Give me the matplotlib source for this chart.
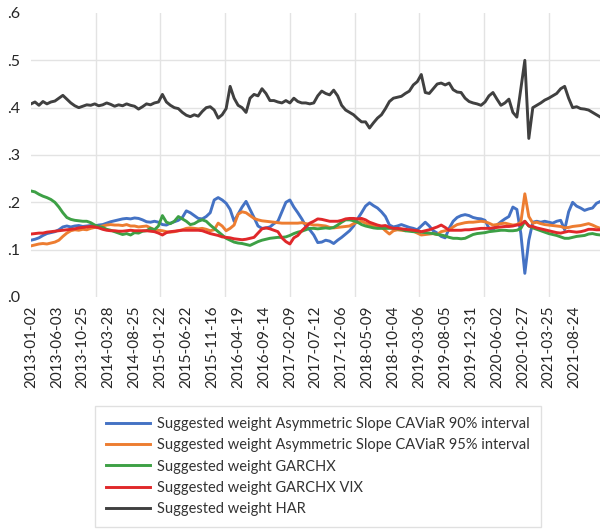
import matplotlib
matplotlib.use("Agg")
import matplotlib.pyplot as plt
from matplotlib.ticker import FuncFormatter
import numpy as np

# Trading-day rows between stored samples, between date labels and between vertical gridlines
rows_per_sample = 16
rows_per_label = 104
rows_per_grid = 260
n_rows = 2286

date_labels = [
    "2013-01-02", "2013-06-03", "2013-10-25", "2014-03-28", "2014-08-25",
    "2015-01-22", "2015-06-22", "2015-11-16", "2016-04-19", "2016-09-14",
    "2017-02-09", "2017-07-12", "2017-12-06", "2018-05-09", "2018-10-04",
    "2019-03-06", "2019-08-05", "2019-12-31", "2020-06-02", "2020-10-27",
    "2021-03-25", "2021-08-24",
]

series_names = [
    "Suggested weight Asymmetric Slope CAViaR 90% interval",
    "Suggested weight Asymmetric Slope CAViaR 95% interval",
    "Suggested weight GARCHX",
    "Suggested weight GARCHX VIX",
    "Suggested weight HAR",
]

caviar_90 = [
    0.120, 0.122, 0.125, 0.130, 0.134, 0.136, 0.138, 0.142, 0.148, 0.150, 0.148, 0.150,
    0.151, 0.149, 0.150, 0.151, 0.150, 0.152, 0.153, 0.156, 0.159, 0.161, 0.163, 0.165,
    0.166, 0.165, 0.167, 0.166, 0.163, 0.159, 0.158, 0.160, 0.158, 0.153, 0.152, 0.156,
    0.159, 0.162, 0.168, 0.182, 0.178, 0.172, 0.166, 0.165, 0.170, 0.178, 0.205, 0.210,
    0.205, 0.198, 0.185, 0.160, 0.175, 0.190, 0.202, 0.185, 0.168, 0.150, 0.145, 0.146,
    0.148, 0.155, 0.160, 0.180, 0.200, 0.205, 0.190, 0.178, 0.165, 0.150, 0.142, 0.131,
    0.115, 0.116, 0.120, 0.118, 0.113, 0.120, 0.126, 0.133, 0.140, 0.150, 0.165, 0.178,
    0.192, 0.199, 0.193, 0.188, 0.180, 0.170, 0.152, 0.148, 0.150, 0.153, 0.150, 0.147,
    0.145, 0.142, 0.150, 0.158, 0.150, 0.140, 0.135, 0.128, 0.125, 0.145, 0.160, 0.168,
    0.172, 0.174, 0.172, 0.168, 0.166, 0.165, 0.162, 0.145, 0.142, 0.152, 0.159, 0.165,
    0.170, 0.190, 0.185, 0.134, 0.050, 0.120, 0.158, 0.160, 0.158, 0.160, 0.158, 0.156,
    0.160, 0.162, 0.142, 0.180, 0.200, 0.192, 0.188, 0.183, 0.186, 0.188, 0.198, 0.202,
]

caviar_95 = [
    0.108, 0.110, 0.112, 0.113, 0.112, 0.114, 0.116, 0.120, 0.128, 0.135, 0.140, 0.142,
    0.141, 0.143, 0.142, 0.145, 0.147, 0.148, 0.150, 0.152, 0.153, 0.152, 0.152, 0.151,
    0.153, 0.150, 0.150, 0.148, 0.149, 0.150, 0.146, 0.142, 0.141, 0.140, 0.138, 0.137,
    0.138, 0.140, 0.142, 0.145, 0.146, 0.145, 0.144, 0.145, 0.143, 0.140, 0.142, 0.156,
    0.150, 0.140, 0.145, 0.152, 0.175, 0.180, 0.178, 0.172, 0.166, 0.163, 0.161, 0.160,
    0.159, 0.158, 0.157, 0.156, 0.156, 0.156, 0.156, 0.156, 0.157, 0.155, 0.154, 0.152,
    0.152, 0.151, 0.150, 0.147, 0.146, 0.147, 0.148, 0.149, 0.150, 0.155, 0.158, 0.160,
    0.156, 0.153, 0.150, 0.149, 0.148, 0.140, 0.133, 0.140, 0.142, 0.141, 0.140, 0.141,
    0.139, 0.135, 0.131, 0.132, 0.133, 0.134, 0.132, 0.138, 0.140, 0.142, 0.148, 0.153,
    0.155, 0.157, 0.158, 0.158, 0.159, 0.160, 0.159, 0.156, 0.152, 0.153, 0.155, 0.156,
    0.154, 0.152, 0.153, 0.158, 0.218, 0.170, 0.156, 0.158, 0.155, 0.153, 0.152, 0.151,
    0.150, 0.149, 0.146, 0.147, 0.149, 0.150, 0.151, 0.153, 0.155, 0.152, 0.148, 0.145,
]

garchx = [
    0.224, 0.222, 0.217, 0.213, 0.210, 0.206, 0.200, 0.190, 0.178, 0.168, 0.164, 0.162,
    0.161, 0.160, 0.160, 0.157, 0.152, 0.149, 0.147, 0.143, 0.141, 0.138, 0.135, 0.132,
    0.134, 0.131, 0.136, 0.135, 0.139, 0.140, 0.145, 0.142, 0.150, 0.172, 0.158, 0.155,
    0.160, 0.170, 0.165, 0.160, 0.153, 0.155, 0.160, 0.163, 0.160, 0.152, 0.145, 0.138,
    0.131, 0.124, 0.120, 0.116, 0.114, 0.113, 0.111, 0.109, 0.113, 0.117, 0.120, 0.122,
    0.124, 0.125, 0.126, 0.126, 0.127, 0.130, 0.134, 0.137, 0.139, 0.142, 0.145, 0.145,
    0.144, 0.145, 0.146, 0.145, 0.147, 0.152, 0.158, 0.163, 0.163, 0.161, 0.158, 0.153,
    0.150, 0.148, 0.146, 0.145, 0.145, 0.145, 0.145, 0.145, 0.144, 0.143, 0.140, 0.139,
    0.138, 0.138, 0.137, 0.136, 0.135, 0.134, 0.132, 0.131, 0.129, 0.126, 0.124, 0.124,
    0.123, 0.124, 0.128, 0.132, 0.134, 0.135, 0.136, 0.138, 0.139, 0.140, 0.141, 0.141,
    0.140, 0.140, 0.141, 0.145, 0.160, 0.150, 0.146, 0.143, 0.140, 0.137, 0.134, 0.132,
    0.130, 0.127, 0.124, 0.124, 0.126, 0.128, 0.129, 0.130, 0.133, 0.134, 0.132, 0.131,
]

garchx_vix = [
    0.133, 0.134, 0.135, 0.135, 0.137, 0.138, 0.139, 0.140, 0.141, 0.142, 0.143, 0.144,
    0.146, 0.147, 0.148, 0.149, 0.148, 0.146, 0.143, 0.141, 0.140, 0.140, 0.139, 0.139,
    0.140, 0.141, 0.140, 0.140, 0.140, 0.140, 0.139, 0.138, 0.135, 0.131, 0.136, 0.138,
    0.139, 0.140, 0.141, 0.141, 0.141, 0.141, 0.141, 0.140, 0.137, 0.134, 0.132, 0.130,
    0.127, 0.126, 0.125, 0.123, 0.122, 0.121, 0.122, 0.124, 0.126, 0.135, 0.144, 0.146,
    0.144, 0.141, 0.138, 0.125, 0.117, 0.112, 0.125, 0.130, 0.140, 0.148, 0.156, 0.160,
    0.165, 0.164, 0.162, 0.160, 0.160, 0.160, 0.162, 0.165, 0.166, 0.166, 0.165, 0.166,
    0.163, 0.158, 0.155, 0.152, 0.150, 0.151, 0.147, 0.145, 0.145, 0.144, 0.143, 0.142,
    0.141, 0.140, 0.138, 0.140, 0.142, 0.145, 0.148, 0.152, 0.147, 0.141, 0.141, 0.141,
    0.141, 0.142, 0.142, 0.143, 0.144, 0.145, 0.145, 0.145, 0.146, 0.147, 0.148, 0.149,
    0.149, 0.150, 0.152, 0.153, 0.160, 0.150, 0.149, 0.146, 0.144, 0.142, 0.140, 0.138,
    0.136, 0.135, 0.137, 0.139, 0.138, 0.137, 0.138, 0.140, 0.143, 0.143, 0.142, 0.142,
]

har = [
    0.408, 0.412, 0.405, 0.413, 0.408, 0.412, 0.414, 0.420, 0.426, 0.418, 0.410, 0.404,
    0.400, 0.403, 0.406, 0.405, 0.408, 0.404, 0.406, 0.410, 0.407, 0.403, 0.406, 0.404,
    0.408, 0.405, 0.403, 0.397, 0.402, 0.408, 0.406, 0.410, 0.412, 0.428, 0.412, 0.405,
    0.400, 0.398, 0.390, 0.384, 0.381, 0.385, 0.382, 0.392, 0.400, 0.402, 0.395, 0.378,
    0.385, 0.398, 0.445, 0.420, 0.405, 0.400, 0.390, 0.420, 0.428, 0.425, 0.440, 0.430,
    0.415, 0.415, 0.412, 0.410, 0.415, 0.410, 0.420, 0.413, 0.410, 0.410, 0.408, 0.410,
    0.425, 0.435, 0.430, 0.427, 0.437, 0.425, 0.405, 0.395, 0.390, 0.385, 0.377, 0.370,
    0.370, 0.357, 0.368, 0.378, 0.385, 0.398, 0.413, 0.420, 0.422, 0.424, 0.430, 0.435,
    0.448, 0.455, 0.470, 0.432, 0.430, 0.440, 0.450, 0.452, 0.448, 0.452, 0.438, 0.433,
    0.432, 0.420, 0.413, 0.410, 0.408, 0.405, 0.412, 0.425, 0.432, 0.418, 0.405, 0.410,
    0.418, 0.390, 0.380, 0.440, 0.500, 0.335, 0.400, 0.405, 0.410, 0.416, 0.420, 0.425,
    0.430, 0.440, 0.445, 0.420, 0.400, 0.402, 0.398, 0.397, 0.395, 0.390, 0.385, 0.380,
]

y_ticks = [0.0, 0.1, 0.2, 0.3, 0.4, 0.5, 0.6]

colors = ["#4472C4", "#ED7D31", "#3DA045", "#E0282A", "#404040"]

plt.rcParams["font.family"] = ["Lato", "DejaVu Sans"]

fig = plt.figure(figsize=(6.0, 5.29), dpi=100)
ax = fig.add_axes([31 / 600, 1 - 297 / 529, 569 / 600, 284 / 529])

all_series = [caviar_90, caviar_95, garchx, garchx_vix, har]
for vals, name, col in zip(all_series, series_names, colors):
    x = np.arange(len(vals)) * rows_per_sample
    ax.plot(x, vals, color=col, lw=2.1, label=name, solid_joinstyle="round")

# light gridlines
for v in y_ticks[1:-1]:
    ax.axhline(v, color="#E3E3E3", lw=1.0, zorder=0)
for gx in range(rows_per_grid, n_rows, rows_per_grid):
    ax.axvline(gx, color="#E3E3E3", lw=1.0, zorder=0)

ax.set_xlim(0, n_rows)
ax.set_ylim(0, 0.6)
ax.set_yticks(y_ticks)
ax.yaxis.set_major_formatter(FuncFormatter(lambda v, p: ("%.1f" % v)[1:]))
ax.set_xticks(np.arange(len(date_labels)) * rows_per_label)
ax.set_xticklabels(date_labels, rotation=90)
ax.tick_params(axis="both", length=0, colors="#262626", labelsize=11)
ax.tick_params(axis="y", pad=8, labelsize=11.5)
ax.tick_params(axis="x", pad=6)
for s in ax.spines.values():
    s.set_visible(False)

leg = fig.legend(
    loc="upper left",
    bbox_to_anchor=(95 / 600, 1 - 406 / 529),
    frameon=True,
    fancybox=False,
    edgecolor="#D9D9D9",
    fontsize=10.5,
    handlelength=3.0,
    handletextpad=0.5,
    labelspacing=0.5,
    borderpad=0.75,
    borderaxespad=0,
)
leg.get_frame().set_linewidth(1.0)
for t in leg.get_texts():
    t.set_color("#333333")

fig.savefig("out.png", dpi=100)
